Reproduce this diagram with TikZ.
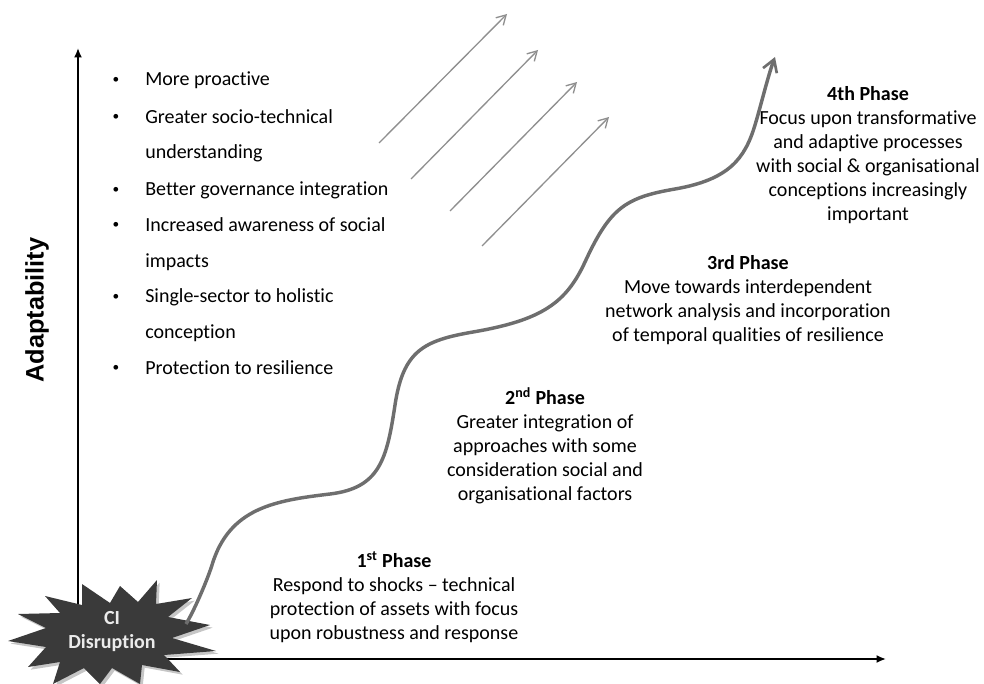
\documentclass[tikz,border=0pt]{standalone}
\usepackage{fontspec}
\setmainfont{Carlito}[Ligatures=NoCommon]
\newfontfamily\axisfont{Liberation Sans}
\usetikzlibrary{arrows.meta,shadows}
\definecolor{curvegray}{HTML}{6E6E6E}
\definecolor{arrgray}{HTML}{8F8F8F}
\definecolor{stargray}{HTML}{3A3A3A}
\begin{document}
\begin{tikzpicture}[x=0.75pt,y=-0.75pt,
  axisline/.style={line width=1.6pt,-{Latex[length=7pt,width=6pt]}},
  trendarrow/.style={arrgray,line width=1pt,-{Straight Barb[length=7pt,width=8pt,line width=1pt]}},
  growth/.style={curvegray,line width=2.6pt,-{Straight Barb[length=9pt,width=11pt,line width=2pt]}},
  bullettext/.style={anchor=west,font=\fontsize{15pt}{18pt}\selectfont,inner sep=0pt},
  bulletmark/.style={font=\fontsize{10pt}{12pt}\selectfont,inner sep=0pt},
  phasetext/.style={align=center,font=\fontsize{15pt}{18pt}\selectfont,inner sep=0pt},
  startext/.style={align=center,text=white!92!black,font=\bfseries\fontsize{15pt}{18pt}\selectfont,inner sep=0pt}
]
\useasboundingbox (0,0) rectangle (984,684);

% axes
\coordinate (origin) at (78,659);
\coordinate (ytop) at (78,48);
\coordinate (xend) at (886,659);
\draw[axisline] (origin) -- (ytop);
\draw[axisline] (origin) -- (xend);

% axis label
\node[rotate=90,font=\axisfont\bfseries\fontsize{19pt}{22pt}\selectfont,inner sep=0pt] (ylabel) at (37,310) {Adaptability};

% bullet list
\foreach \yy/\txt/\b in {80/More proactive/1,117/Greater socio-technical/1,153/understanding/0,190/Better governance integration/1,225/Increased awareness of social/1,262/impacts/0,297/Single-sector to holistic/1,333/conception/0,368/Protection to resilience/1}{
  \node[bullettext] (item\yy) at (145,\yy) {\txt};
  \ifnum\b=1 \node[bulletmark] (bul\yy) at (116,\yy) {•};\fi
}

% diagonal trend arrows
\coordinate (t1) at (379,143); \coordinate (h1) at (507,14);
\coordinate (t2) at (411,179); \coordinate (h2) at (538,50);
\coordinate (t3) at (450,211); \coordinate (h3) at (577,82);
\coordinate (t4) at (482,246); \coordinate (h4) at (609,117);
\foreach \i in {1,2,3,4}{\draw[trendarrow] (t\i) -- (h\i);}

% star
\fill[stargray,drop shadow={shadow xshift=2pt,shadow yshift=-2pt,opacity=0.45}]
  (157,580) -- (138,602) -- (120,586) -- (110,603) -- (82,584) -- (82,605)
  -- (45,596) -- (60,613) -- (18,614) -- (46,628) -- (8,641) -- (46,647)
  -- (28,667) -- (60,662) -- (53,684) -- (84,668) -- (100,684) -- (112,668)
  -- (140,684) -- (142,665) -- (180,672) -- (164,655) -- (216,651)
  -- (172,638) -- (210,625) -- (168,617) -- (192,598) -- (156,604) -- cycle;
\node[startext] (ci) at (112,632) {CI\\Disruption};

% growth curve
\coordinate (g0) at (186,624);
\coordinate (gend) at (775,57);
\draw[growth] (g0)
  .. controls (194,611) and (207.6,579.4) .. (212,565)
  .. controls (229.3,507.6) and (275.4,500.5) .. (330,494)
  .. controls (379.7,488) and (386.8,459.4) .. (395,405)
  .. controls (403.2,350.6) and (423.7,340.5) .. (473,332)
  .. controls (542,320.1) and (566.1,302.9) .. (585,262)
  .. controls (610.1,207.5) and (625.7,197.5) .. (675,189)
  .. controls (729.2,179.6) and (744.9,158.5) .. (755,125)
  .. controls (760.8,105.9) and (768,75.8) .. (gend);

% phase texts
\node[phasetext] (p1) at (394,597) {\textbf{1\textsuperscript{st} Phase}\\Respond to shocks -- technical\\protection of assets with focus\\upon robustness and response};
\node[phasetext] (p2) at (545,446) {\textbf{2\textsuperscript{nd} Phase}\\Greater integration of\\approaches with some\\consideration social and\\organisational factors};
\node[phasetext] (p3) at (748,300.5) {\textbf{3rd Phase}\\Move towards interdependent\\network analysis and incorporation\\of temporal qualities of resilience};
\node[phasetext] (p4) at (868,155) {\textbf{4th Phase}\\Focus upon transformative\\and adaptive processes\\with social \& organisational\\conceptions increasingly\\important};
\end{tikzpicture}
\end{document}
